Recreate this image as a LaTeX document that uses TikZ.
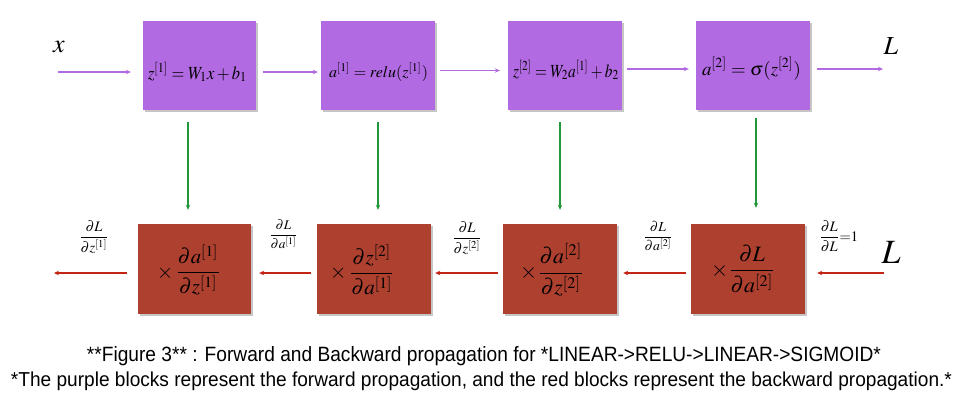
\documentclass[tikz,border=0pt]{standalone}
\usepackage{mathptmx}
\usepackage{graphicx}
\usepackage{fontspec}
\newfontfamily\capfont{Liberation Sans}
\usetikzlibrary{arrows.meta,shadows}
\definecolor{fwdpurple}{RGB}{178,106,226}
\definecolor{bwdred}{RGB}{174,64,48}
\definecolor{arrred}{RGB}{196,36,20}
\definecolor{arrgreen}{RGB}{34,152,58}
\newcommand{\fitw}[2]{\resizebox{#1}{!}{$\displaystyle #2$}}
\begin{document}
\begin{tikzpicture}[x=1pt,y=-1pt,
  pbox/.style={draw=none,fill=fwdpurple,minimum width=113pt,minimum height=89pt,inner sep=0pt,
    drop shadow={shadow xshift=1.5pt,shadow yshift=-1.5pt,opacity=0.45}},
  rbox/.style={draw=none,fill=bwdred,minimum width=113pt,minimum height=90pt,inner sep=0pt,
    drop shadow={shadow xshift=1.5pt,shadow yshift=-1.5pt,opacity=0.45}},
  txt/.style={inner sep=0pt},
  fwd/.style={draw=fwdpurple,line width=1.1pt,-{Stealth[length=5pt,width=4.5pt]}},
  bwd/.style={draw=arrred,line width=1.1pt,-{Stealth[length=5pt,width=4.5pt]}},
  dwn/.style={draw=arrgreen,line width=1.1pt,-{Stealth[length=5pt,width=4.5pt]}},
  captxt/.style={inner sep=0pt,anchor=base,font=\capfont}]
\useasboundingbox (0,0) rectangle (965,402);
% forward boxes
\node[pbox] (top1) at (199.5,65.5) {};
\node[pbox,minimum width=114pt] (top2) at (378,65.5) {};
\node[pbox,minimum width=114pt] (top3) at (565,65.5) {};
\node[pbox,minimum width=114pt] (top4) at (753,65.5) {};
\node[txt] (t1) at (197.5,72) {\resizebox{99pt}{17pt}{$z^{[1]}=W_1x+b_1$}};
\node[txt] (t2) at (378.5,72) {\fitw{99pt}{a^{[1]}=relu(z^{[1]})}};
\node[txt] (t3) at (566,70) {\resizebox{106pt}{17pt}{$z^{[2]}=W_2a^{[1]}+b_2$}};
\node[txt] (t4) at (751.5,69) {\fitw{99pt}{a^{[2]}=\sigma(z^{[2]})}};
% backward boxes
\node[rbox] (bot1) at (194.5,269) {};
\node[rbox,minimum width=114pt] (bot2) at (374,269) {};
\node[rbox,minimum width=114pt] (bot3) at (560,269) {};
\node[rbox,minimum width=114pt] (bot4) at (748,269) {};
\node[txt] (b1) at (189,270) {\fitw{64pt}{\times\,\frac{\partial a^{[1]}}{\partial z^{[1]}}}};
\node[txt] (b2) at (362.5,270) {\fitw{65pt}{\times\,\frac{\partial z^{[2]}}{\partial a^{[1]}}}};
\node[txt] (b3) at (552.5,270) {\fitw{65pt}{\times\frac{\partial a^{[2]}}{\partial z^{[2]}}}};
\node[txt] (b4) at (743.5,269) {\fitw{65pt}{\times\frac{\partial L}{\partial a^{[2]}}}};
% end labels
\node[txt,font=\fontsize{26}{30}\selectfont] (xin) at (59,47) {$x$};
\node[txt,font=\fontsize{26}{30}\selectfont] (ltop) at (891,46) {$L$};
\node[txt,font=\fontsize{34}{40}\selectfont] (lbot) at (891,252) {$L$};
% derivative labels
\node[txt] (d1) at (94,237) {\fitw{30pt}{\frac{\partial L}{\partial z^{[1]}}}};
\node[txt] (d2) at (283.5,234) {\fitw{29pt}{\frac{\partial L}{\partial a^{[1]}}}};
\node[txt] (d3) at (467,238) {\fitw{30pt}{\frac{\partial L}{\partial z^{[2]}}}};
\node[txt] (d4) at (658,236) {\fitw{30pt}{\frac{\partial L}{\partial a^{[2]}}}};
\node[txt] (d5) at (838.5,236) {\fitw{39pt}{\frac{\partial L}{\partial L}{=}1}};
% free ends
\coordinate (xs) at (58,72);
\coordinate (le) at (883,69);
\coordinate (ls) at (884,273);
\coordinate (ze) at (54,273);
\coordinate (g1) at (188,0);
\coordinate (g2) at (378,0);
\coordinate (g3) at (560,0);
\coordinate (g4) at (756,0);
% forward arrows
\draw[fwd,shorten >=12pt] (xs) -- (xs -| top1.west);
\draw[fwd,shorten <=7pt,shorten >=3pt] ([yshift=-6.5pt]top1.east) -- ([yshift=-6.5pt]top2.west);
\draw[fwd,shorten <=5pt,shorten >=8pt] ([yshift=-5pt]top2.east) -- ([yshift=-5pt]top3.west);
\draw[fwd,shorten <=5pt,shorten >=7pt] ([yshift=-3.5pt]top3.east) -- ([yshift=-3.5pt]top4.west);
\draw[fwd,shorten <=7pt] (le -| top4.east) -- (le);
% downward arrows
\draw[dwn,shorten <=12pt,shorten >=14pt] (top1.south -| g1) -- (bot1.north -| g1);
\draw[dwn,shorten <=12pt,shorten >=14pt] (top2.south -| g2) -- (bot2.north -| g2);
\draw[dwn,shorten <=12pt,shorten >=14pt] (top3.south -| g3) -- (bot3.north -| g3);
\draw[dwn,shorten <=8pt,shorten >=16pt] (top4.south -| g4) -- (bot4.north -| g4);
% backward arrows
\draw[bwd,shorten >=12pt] (ls) -- (ls -| bot4.east);
\draw[bwd,shorten <=5pt,shorten >=6pt] ([yshift=-4pt]bot4.west) -- ([yshift=-4pt]bot3.east);
\draw[bwd,shorten <=5pt,shorten >=4pt] ([yshift=-4pt]bot3.west) -- ([yshift=-4pt]bot2.east);
\draw[bwd,shorten <=6pt,shorten >=8pt] ([yshift=-4pt]bot2.west) -- ([yshift=-4pt]bot1.east);
\draw[bwd,shorten <=11pt] (ze -| bot1.west) -- (ze);
% caption
\node[captxt] (c1) at (484,361) {\resizebox{794pt}{15pt}{**Figure 3** : Forward and Backward propagation for *LINEAR->RELU->LINEAR->SIGMOID*}};
\node[captxt] (c2) at (481.5,386) {\resizebox{941pt}{14.6pt}{*The purple blocks represent the forward propagation, and the red blocks represent the backward propagation.*}};
\end{tikzpicture}
\end{document}
